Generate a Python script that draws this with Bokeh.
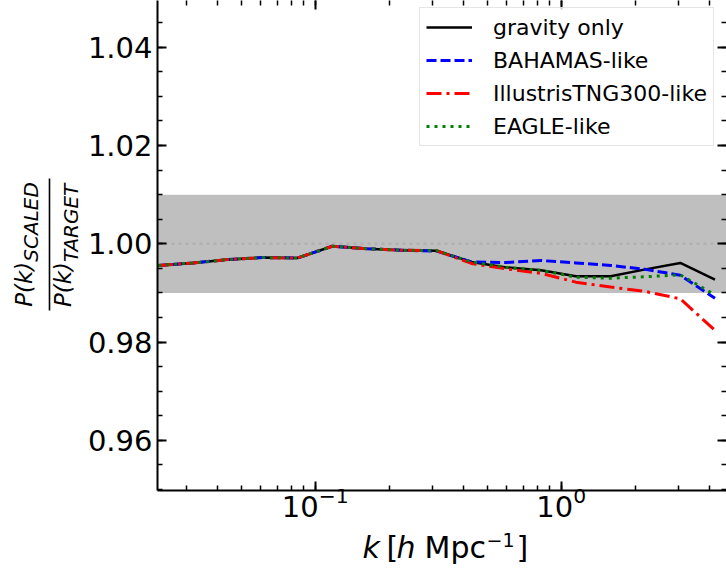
import math
from bokeh.plotting import figure
from bokeh.layouts import row, column
from bokeh.models import (Range1d, LogAxis, LinearAxis, LogTicker, SingleIntervalTicker,
                          PrintfTickFormatter, CustomJSTickFormatter, BoxAnnotation, Span,
                          Label, Legend, LegendItem)
from bokeh.embed import file_html
from bokeh.resources import INLINE

# ---- data ----
k = [0.023, 0.0319, 0.0442, 0.0612, 0.0847, 0.1173, 0.1625, 0.225, 0.3117,
     0.4317, 0.598, 0.828, 1.147, 1.589, 2.2, 3.05, 4.22]
gravity_only = [0.9956, 0.9961, 0.9968, 0.9972, 0.9971, 0.9995, 0.9990, 0.9987, 0.9986,
                0.9963, 0.9952, 0.9946, 0.9934, 0.9934, 0.9948, 0.9961, 0.9927]
bahamas_like = [0.9956, 0.9961, 0.9968, 0.9972, 0.9971, 0.9995, 0.9990, 0.9987, 0.9985,
                0.9963, 0.9962, 0.9966, 0.9961, 0.9956, 0.9948, 0.9936, 0.9889]
tng300_like = [0.9956, 0.9961, 0.9968, 0.9972, 0.9971, 0.9995, 0.9990, 0.9987, 0.9986,
               0.9960, 0.9949, 0.9940, 0.9922, 0.9912, 0.9903, 0.9888, 0.9824]
eagle_like = [0.9956, 0.9961, 0.9968, 0.9972, 0.9971, 0.9995, 0.9990, 0.9987, 0.9986,
              0.9963, 0.9952, 0.9946, 0.9932, 0.9930, 0.9933, 0.9937, 0.9896]
series_labels = ["gravity only", "BAHAMAS-like", "IllustrisTNG300-like", "EAGLE-like"]
band_low, band_high = 0.99, 1.01
reference_level = 1.0

FONT = "DejaVu Sans"
W, H = 726, 572
LW = 84           # width of the strip holding the y-axis title
MH = 528          # height of the main figure
FRAME_L = 157     # page x of the plot frame's left edge

# ---------------- main figure ----------------
p = figure(width=W - LW, height=MH, x_axis_type="log",
           x_range=Range1d(0.02285, 4.70), y_range=Range1d(0.94981, 1.0495),
           output_backend="svg", toolbar_location=None,
           min_border_left=FRAME_L - LW, min_border_right=0, min_border_top=0,
           min_border_bottom=MH - 490)
p.outline_line_color = None
p.grid.visible = False
p.background_fill_color = "white"


def style(ax):
    ax.axis_line_width = 2
    ax.axis_line_color = "black"
    ax.major_tick_in = 9
    ax.major_tick_out = 0
    ax.minor_tick_in = 5
    ax.minor_tick_out = 0
    ax.major_tick_line_width = 2
    ax.minor_tick_line_width = 1.5
    ax.major_tick_line_color = "black"
    ax.minor_tick_line_color = "black"
    ax.major_label_text_font = FONT
    ax.major_label_text_font_size = "29px"
    ax.major_label_text_color = "black"


yticker = SingleIntervalTicker(interval=0.02, num_minor_ticks=4)
xticker = LogTicker(num_minor_ticks=10)

ly = p.yaxis[0]
style(ly)
ly.ticker = yticker
ly.formatter = PrintfTickFormatter(format="%.2f")
ly.major_label_standoff = 5

bx = p.xaxis[0]
style(bx)
bx.ticker = xticker
bx.major_label_standoff = -4

blank = CustomJSTickFormatter(code="return ''")
ry = LinearAxis(ticker=yticker, formatter=blank)
style(ry)
ry.axis_line_color = None
ry.major_label_standoff = 0
ry.major_label_text_font_size = "0px"
p.add_layout(ry, "right")

tx = LogAxis(ticker=LogTicker(num_minor_ticks=10), formatter=blank)
style(tx)
tx.axis_line_color = None
tx.major_label_standoff = 0
tx.major_label_text_font_size = "0px"
p.add_layout(tx, "above")

# shaded +-1% band and dotted reference line
p.add_layout(BoxAnnotation(bottom=band_low, top=band_high, fill_color="gray", fill_alpha=0.5,
                           line_color=None, level="underlay"))
p.add_layout(Span(location=reference_level, dimension="width", line_color="#b0b0b0",
                  line_dash="3 4", line_width=2.5, level="underlay"))

r_g = p.line(k, gravity_only, line_color="black", line_width=2.5)
r_b = p.line(k, bahamas_like, line_color="blue", line_width=3, line_dash="10 4")
r_r = p.line(k, tng300_like, line_color="red", line_width=3, line_dash="15 5 3 5")
r_e = p.line(k, eagle_like, line_color="green", line_width=3, line_dash="3 5")

legend = Legend(items=[LegendItem(label=series_labels[0], renderers=[r_g]),
                       LegendItem(label=series_labels[1], renderers=[r_b]),
                       LegendItem(label=series_labels[2], renderers=[r_r]),
                       LegendItem(label=series_labels[3], renderers=[r_e])],
                location=(262, 344))
legend.label_text_font = FONT
legend.label_text_font_size = "22px"
legend.label_text_color = "black"
legend.glyph_width = 46
legend.glyph_height = 26
legend.label_height = 26
legend.spacing = 7
legend.padding = 6
legend.margin = 0
legend.label_standoff = 21
legend.border_line_color = "#cccccc"
legend.border_line_width = 1
legend.background_fill_alpha = 0.8
p.add_layout(legend)


def strip(width, height, x0, x1, left_border=0):
    f = figure(width=width, height=height, x_range=Range1d(x0, x1), y_range=Range1d(0, height),
               output_backend="svg", toolbar_location=None,
               x_axis_location=None, y_axis_location=None,
               min_border=0, min_border_left=left_border, min_border_right=0,
               min_border_top=0, min_border_bottom=0)
    f.grid.visible = False
    f.outline_line_color = None
    f.background_fill_color = "white"
    f.border_fill_color = "white"
    return f


def lab(f, x, y, text, size, italic=False, angle=0.0):
    f.add_layout(Label(x=x, y=y, text=text, angle=angle, text_align="left",
                       text_baseline="alphabetic", text_font=FONT, text_font_size=size,
                       text_font_style="italic" if italic else "normal",
                       text_color="black"))


# ---------------- y-axis title strip: P(k)_SCALED / P(k)_TARGET ----------------
yl = strip(LW, H, 0, LW)
A = math.pi / 2
DX = 10   # renderer places the rotated baseline a little to the right
lab(yl, 33 - DX, H - 306.3, "P(k)", "23px", True, A)
lab(yl, 40 - DX, H - 261.2, "SCALED", "20px", True, A)
lab(yl, 72 - DX, H - 306.6, "P(k)", "23px", True, A)
lab(yl, 80 - DX, H - 261.5, "TARGET", "20px", True, A)
yl.add_layout(BoxAnnotation(left=48.2, right=49.8, bottom=H - 310, top=H - 178,
                            fill_color="black", fill_alpha=1, line_color=None))

# ---------------- x-axis title strip: k [h Mpc^-1] ----------------
XH = H - MH
# frame spans page x FRAME_L .. W, so data x == page x
xl = strip(W - LW, XH, FRAME_L, W, left_border=FRAME_L - LW)
DY = 8    # renderer places the baseline a little lower
base = H - 555 + DY
lab(xl, 362, base, "k", "30px", True)
lab(xl, 386, base, "[", "30px")
lab(xl, 396, base, "h", "30px", True)
lab(xl, 424, base, "Mpc", "30px")
lab(xl, 486, base + 8, "\u22121", "19px")
lab(xl, 516, base, "]", "30px")

layout = row(yl, column(p, xl, spacing=0), spacing=0)
open("out.html", "w").write(file_html(layout, INLINE))
